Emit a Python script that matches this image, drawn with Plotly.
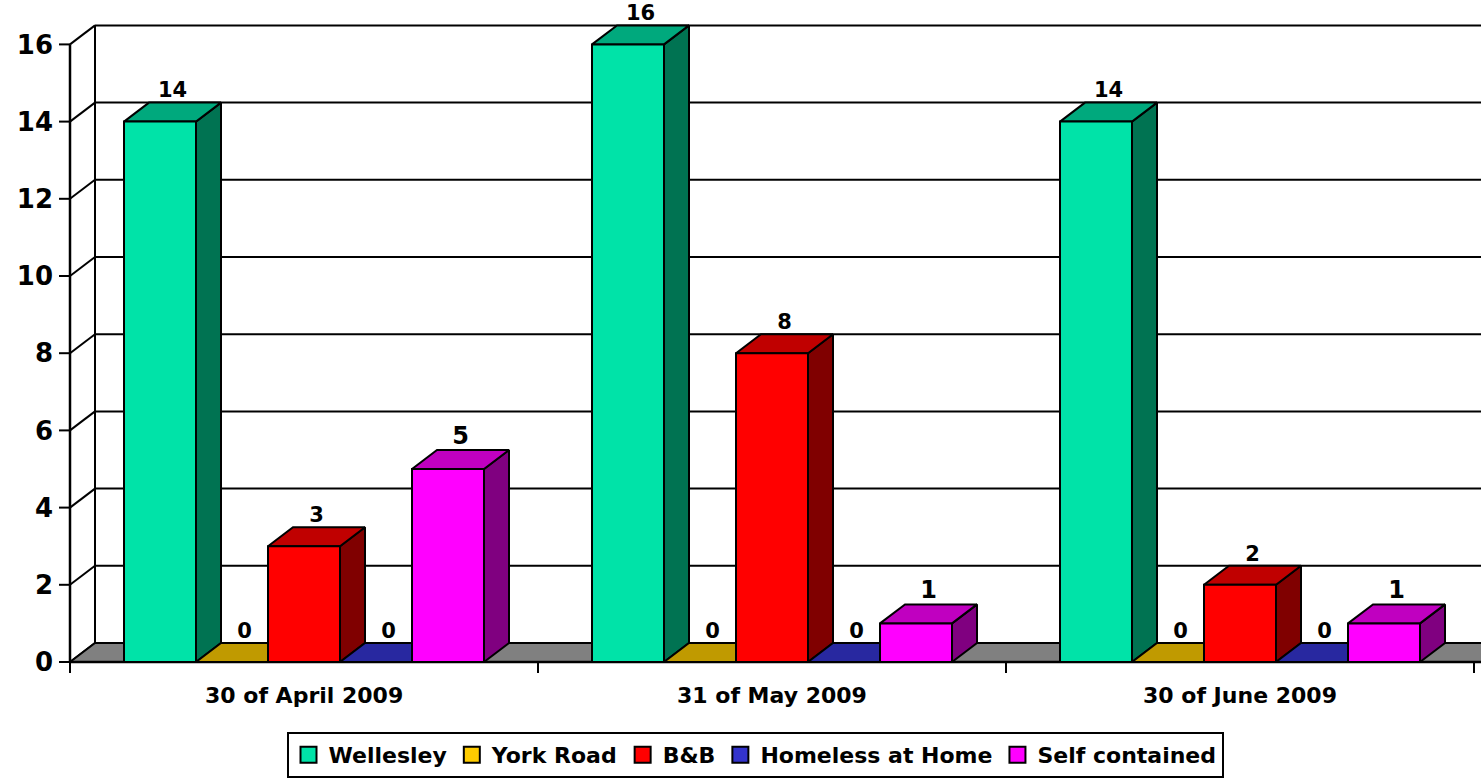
import plotly.graph_objects as go

# ---------------- data ----------------
categories = ["30 of April 2009", "31 of May 2009", "30 of June 2009"]
series_names = ["Wellesley", "York Road", "B&B", "Homeless at Home", "Self contained"]
wellesley = [14, 16, 14]
york_road = [0, 0, 0]
bnb = [3, 8, 2]
homeless = [0, 0, 0]
self_contained = [5, 1, 1]
y_ticks = [0, 2, 4, 6, 8, 10, 12, 14, 16]

series_values = [wellesley, york_road, bnb, homeless, self_contained]
front_colors = ["#00E3A8", "#FFCC00", "#FF0000", "#3333CC", "#FF00FF"]
top_colors = ["#00A97D", "#C09A00", "#C00000", "#2828A0", "#C000C0"]
side_colors = ["#007352", "#806600", "#800000", "#1A1A66", "#800080"]
label_sizes = [21, 21, 21, 21, 24]

# ---------------- geometry (axis units) ----------------
PX_X = 468.0      # pixels per category
PX_Y = 38.6       # pixels per value unit
N_SER = len(series_names)
SLOT = 1.0 / (N_SER + 1.5)   # gap width 150 %
BAR_W = SLOT
GAP = 0.75 * SLOT
DX = 25 / PX_X
DY = 19 / PX_Y
X_MIN = -12 / PX_X
X_MAX = (1481 - 70) / PX_X
Y_MIN = -12 / PX_Y
Y_MAX = (662 - 4) / PX_Y
Y_TOP = max(y_ticks)

fig = go.Figure()

LINE = dict(color="black", width=2)


def poly_trace(xs, ys, fill):
    return go.Scatter(x=xs, y=ys, mode="lines", fill="toself", fillcolor=fill,
                      line=LINE, hoverinfo="skip", showlegend=False)


def line_trace(xs, ys, width=2):
    return go.Scatter(x=xs, y=ys, mode="lines", line=dict(color="black", width=width),
                      hoverinfo="skip", showlegend=False)


# back wall gridlines + left wall diagonals
gx, gy = [], []
for v in y_ticks:
    gx += [DX, X_MAX + 0.1, None, 0, DX, None]
    gy += [v + DY, v + DY, None, v, v + DY, None]
fig.add_trace(line_trace(gx, gy))
# back wall left edge
fig.add_trace(line_trace([DX, DX], [DY, Y_TOP + DY]))

# floor
fig.add_trace(poly_trace([0, DX, X_MAX + 0.1, X_MAX + 0.1, 0],
                         [0, DY, DY, 0, 0], "#808080"))

# front axes
fig.add_trace(line_trace([0, 0, None, 0, X_MAX + 0.1], [0, Y_TOP, None, 0, 0], width=2.5))
# y tick marks
tx, ty = [], []
for v in y_ticks:
    tx += [-11 / PX_X, 0, None]
    ty += [v, v, None]
# category tick marks
for k in range(len(categories) + 1):
    tx += [k, k, None]
    ty += [0, -11 / PX_Y, None]
fig.add_trace(line_trace(tx, ty))

# bars
for i, (name, vals) in enumerate(zip(series_names, series_values)):
    fx, fy, tpx, tpy, sx, sy = [], [], [], [], [], []
    lx, ly, lt = [], [], []
    for c, v in enumerate(vals):
        x0 = c + GAP + i * BAR_W
        x1 = x0 + BAR_W
        if v > 0:
            fx += [x0, x1, x1, x0, x0, None]
            fy += [0, 0, v, v, 0, None]
            sx += [x1, x1 + DX, x1 + DX, x1, x1, None]
            sy += [0, DY, v + DY, v, 0, None]
        tpx += [x0, x1, x1 + DX, x0 + DX, x0, None]
        tpy += [v, v, v + DY, v + DY, v, None]
        lx.append(x0 + BAR_W / 2 + DX / 2)
        ly.append(v + DY)
        lt.append(str(v))
    if sx:
        fig.add_trace(poly_trace(sx, sy, side_colors[i]))
    fig.add_trace(poly_trace(tpx, tpy, top_colors[i]))
    if fx:
        fig.add_trace(poly_trace(fx, fy, front_colors[i]))
    fig.add_trace(go.Scatter(x=lx, y=ly, mode="text", text=lt, textposition="top center",
                             textfont=dict(family="DejaVu Sans", size=label_sizes[i],
                                           weight="bold", color="black"),
                             cliponaxis=False, hoverinfo="skip", showlegend=False))

# legend entries
for i, name in enumerate(series_names):
    fig.add_trace(go.Scatter(x=[None], y=[None], mode="markers", name=name,
                             marker=dict(symbol="square", size=16, color=front_colors[i],
                                         line=dict(color="black", width=2))))

# category labels
for k, cat in enumerate(categories):
    fig.add_annotation(x=k + 0.5, y=0, xref="x", yref="y", text=cat, showarrow=False,
                       yshift=-33, yanchor="middle",
                       font=dict(family="DejaVu Sans", size=22, weight="bold", color="black"))

fig.update_layout(
    width=1481, height=779,
    margin=dict(l=58, r=0, t=4, b=105, pad=0),
    paper_bgcolor="white", plot_bgcolor="white",
    hovermode=False,
    xaxis=dict(range=[X_MIN, X_MAX], showgrid=False, zeroline=False, showline=False,
               showticklabels=False, ticks="", fixedrange=True),
    yaxis=dict(range=[Y_MIN, Y_MAX], showgrid=False, zeroline=False, showline=False,
               tickmode="array", tickvals=y_ticks, ticktext=[str(t) for t in y_ticks],
               ticks="", ticklabelstandoff=4,
               tickfont=dict(family="DejaVu Sans", size=26, weight="bold", color="black"),
               fixedrange=True),
    legend=dict(orientation="h", x=(755 - 58) / 1423, xanchor="center",
                y=-104 / 670, yanchor="bottom",
                bordercolor="black", borderwidth=2, bgcolor="white",
                font=dict(family="DejaVu Sans", size=22, weight="bold", color="black"),
                itemclick=False, itemdoubleclick=False),
)

fig.write_html("out.html", config={"displayModeBar": False},
               post_script="document.body.style.margin='0';document.body.style.overflow='hidden';")
